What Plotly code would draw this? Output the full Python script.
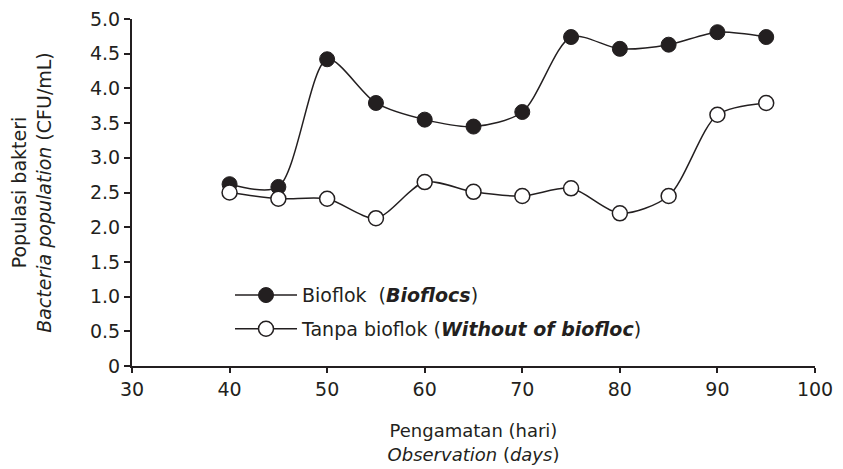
import plotly.graph_objects as go

days = [40, 45, 50, 55, 60, 65, 70, 75, 80, 85, 90, 95]
bioflok = [2.62, 2.58, 4.42, 3.79, 3.55, 3.45, 3.66, 4.74, 4.57, 4.63, 4.81, 4.74]
tanpa = [2.50, 2.41, 2.41, 2.13, 2.65, 2.51, 2.45, 2.56, 2.20, 2.45, 3.62, 3.79]

y_ticks = [0, 0.5, 1.0, 1.5, 2.0, 2.5, 3.0, 3.5, 4.0, 4.5, 5.0]
y_labels = ["0", "0.5", "1.0", "1.5", "2.0", "2.5", "3.0", "3.5", "4.0", "4.5", "5.0"]
x_ticks = [30, 40, 50, 60, 70, 80, 90, 100]

INK = "#231f20"
FONT = "DejaVu Sans"
FS = 19

fig = go.Figure()
fig.add_trace(go.Scatter(
    x=days, y=bioflok, mode="lines+markers",
    name="Bioflok  (<b><i>Bioflocs</i></b>)", legendgroup="a",
    line=dict(color=INK, width=1.5, shape="spline", smoothing=0.8),
    marker=dict(symbol="circle", size=15, color=INK, line=dict(color=INK, width=1)),
))
fig.add_trace(go.Scatter(
    x=days, y=tanpa, mode="lines+markers",
    name="Tanpa bioflok (<b><i>Without of biofloc</i></b>)", legendgroup="b",
    line=dict(color=INK, width=1.5, shape="spline", smoothing=0.8),
    marker=dict(symbol="circle", size=15, color="white", line=dict(color=INK, width=1.5)),
))

fig.update_layout(
    template="none",
    width=835, height=461,
    margin=dict(l=124, r=28, t=11, b=103, pad=0),
    paper_bgcolor="white", plot_bgcolor="white",
    font=dict(family=FONT, size=FS, color=INK),
    legend=dict(
        x=0.1435, y=0.155, xanchor="left", yanchor="middle",
        bgcolor="rgba(0,0,0,0)", tracegroupgap=6, itemwidth=62,
        font=dict(family=FONT, size=FS, color=INK),
    ),
    xaxis=dict(
        range=[30, 100], tickvals=x_ticks, ticks="outside", ticklen=5, tickwidth=1.5,
        tickcolor=INK, automargin=False, ticklabeloverflow="allow",
        showline=True, linecolor=INK, linewidth=2, showgrid=False, zeroline=False,
        tickfont=dict(family=FONT, size=FS, color=INK),
        title=dict(text="Pengamatan (hari)<br><i>Observation</i> (<i>days</i>)",
                   font=dict(family=FONT, size=18, color=INK), standoff=26),
    ),
    yaxis=dict(
        range=[0, 5], tickvals=y_ticks, ticktext=y_labels, ticks="outside", ticklen=6, tickwidth=1.5,
        tickcolor=INK, automargin=False, ticklabeloverflow="allow",
        showline=True, linecolor=INK, linewidth=2, showgrid=False, zeroline=False,
        tickfont=dict(family=FONT, size=FS, color=INK),
        title=dict(text="Populasi bakteri<br><i>Bacteria population</i> (CFU/mL)",
                   font=dict(family=FONT, size=FS, color=INK), standoff=41),
    ),
)

fig.write_html("out.html")
